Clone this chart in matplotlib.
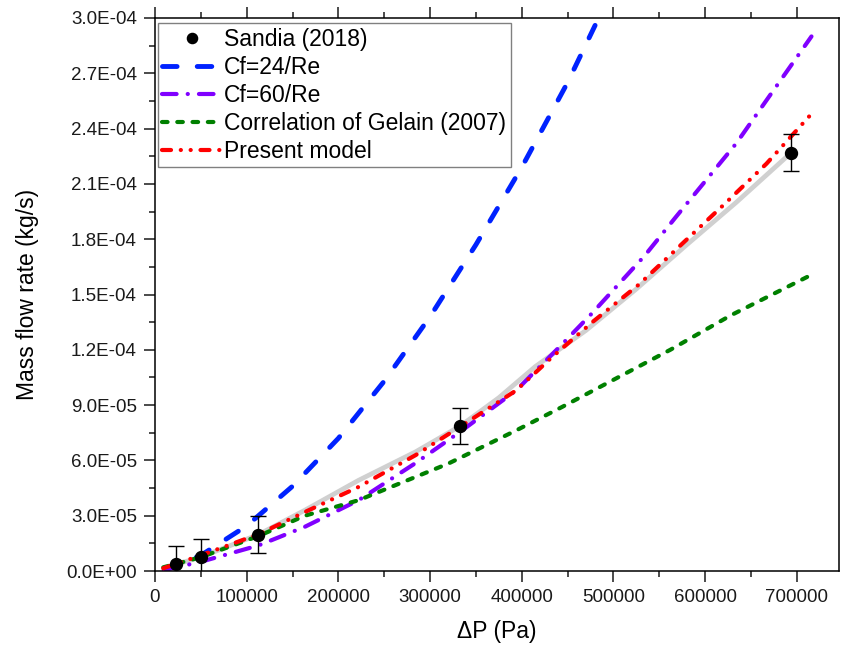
import numpy as np
import matplotlib.pyplot as plt
from matplotlib.ticker import MultipleLocator, FuncFormatter

plt.rcParams['font.family'] = ['Liberation Sans', 'DejaVu Sans']
plt.rcParams['lines.scale_dashes'] = False

# Sandia (2018) experiment
dp_exp = [23000, 50000, 112500, 333000, 694000]
m_exp = [3.6e-6, 7.6e-6, 1.97e-5, 7.87e-5, 2.27e-4]
m_err = [1.0e-5, 1.0e-5, 1.0e-5, 1.0e-5, 1.0e-5]

# grey fit through experiment
dp_fit = [10000, 23000, 50000, 112500, 163500, 222000, 284000, 333000, 375000,
          415000, 470000, 525000, 580000, 634000, 694000]
m_fit = [1.0e-6, 3.6e-6, 7.6e-6, 1.97e-5, 3.3e-5, 4.92e-5, 6.46e-5, 7.87e-5, 9.4e-5,
         1.11e-4, 1.305e-4, 1.53e-4, 1.77e-4, 2.0e-4, 2.27e-4]

# Cf=24/Re
dp_cf24 = [10000, 50000, 100000, 150000, 200000, 250000, 300000, 350000, 400000,
           450000, 480000]
m_cf24 = [0.6e-6, 8.5e-6, 2.45e-5, 4.6e-5, 7.2e-5, 1.03e-4, 1.38e-4, 1.77e-4, 2.19e-4,
          2.65e-4, 2.96e-4]

# Cf=60/Re
dp_cf60 = [10000, 50000, 113000, 163500, 222000, 284000, 335000, 394000, 444000,
           477000, 534000, 568000, 601000, 634000, 665000, 716000]
m_cf60 = [0.5e-6, 5.0e-6, 1.39e-5, 2.4e-5, 3.84e-5, 5.85e-5, 7.63e-5, 9.8e-5, 1.23e-4,
          1.40e-4, 1.71e-4, 1.92e-4, 2.12e-4, 2.32e-4, 2.54e-4, 2.9e-4]

# Correlation of Gelain (2007)
dp_gel = [9000, 50000, 113000, 163500, 222000, 320000, 394000, 444000, 562000,
          628000, 716000]
m_gel = [2.0e-6, 7.5e-6, 1.9e-5, 3.0e-5, 3.84e-5, 5.83e-5, 7.63e-5, 8.9e-5, 1.2e-4,
         1.387e-4, 1.607e-4]

# Present model
dp_mod = [9000, 50000, 113000, 163500, 222000, 284000, 335000, 394000, 433000,
          477000, 528000, 576000, 621000, 667000, 716000]
m_mod = [1.5e-6, 8.5e-6, 2.0e-5, 3.2e-5, 4.56e-5, 6.28e-5, 7.9e-5, 9.8e-5, 1.16e-4,
         1.35e-4, 1.555e-4, 1.78e-4, 1.99e-4, 2.21e-4, 2.48e-4]

fig = plt.figure(figsize=(8.41, 6.45), dpi=100)
ax = fig.add_axes([0.1843, 0.1147, 0.8133, 0.8574])

ax.plot(dp_fit, m_fit, color='#d0d0d0', lw=3.4, solid_capstyle='round',
        solid_joinstyle='round', zorder=1)

ax.plot(dp_cf24, m_cf24, color='#0022ff', lw=3.5, dashes=(10.5, 14.5),
        dash_capstyle='round', label='Cf=24/Re', zorder=2)
ax.plot(dp_cf60, m_cf60, color='#8000ff', lw=3.0, dashes=(10.5, 8, 0.1, 8),
        dash_capstyle='round', label='Cf=60/Re', zorder=2)
ax.plot(dp_gel, m_gel, color='#008000', lw=3.0, dashes=(4, 7),
        dash_capstyle='round', label='Correlation of Gelain (2007)', zorder=2)
ax.plot(dp_mod, m_mod, color='#ff0000', lw=3.0, dashes=(6.5, 7, 0.1, 7, 0.1, 7),
        dash_capstyle='round', label='Present model', zorder=3)

ax.errorbar(dp_exp, m_exp, yerr=m_err, fmt='none', ecolor='black', elinewidth=1.0,
            capsize=6, capthick=1.0, zorder=4)
ax.plot(dp_exp, m_exp, 'o', color='black', ms=8.6, label='Sandia (2018)', zorder=5)

ax.set_xlim(0, 746000)
ax.set_ylim(0, 3.0e-4)
ax.xaxis.set_major_locator(MultipleLocator(100000))
ax.xaxis.set_minor_locator(MultipleLocator(50000))
ax.yaxis.set_major_locator(MultipleLocator(3.0e-5))
ax.yaxis.set_minor_locator(MultipleLocator(1.5e-5))
ax.xaxis.set_major_formatter(FuncFormatter(lambda v, p: '%d' % round(v)))
ax.yaxis.set_major_formatter(FuncFormatter(lambda v, p: '%.1E' % v))

ax.tick_params(which='both', direction='out', top=True, right=False, width=1.1,
               labelsize=13.5, colors='#1a1a1a', pad=5)
ax.tick_params(which='major', length=8)
ax.tick_params(which='minor', length=4)
for s in ax.spines.values():
    s.set_linewidth(1.1)

ax.set_xlabel('ΔP (Pa)', fontsize=16.5, labelpad=10)
ax.set_ylabel('Mass flow rate (kg/s)', fontsize=16.5, labelpad=20)

# legend: Sandia first, grey fit left out
h, l = ax.get_legend_handles_labels()
order = [4, 0, 1, 2, 3]
leg = ax.legend([h[i] for i in order], [l[i] for i in order], loc='upper left',
                bbox_to_anchor=(0.004, 0.991), borderaxespad=0, fontsize=16.5,
                frameon=True, fancybox=False, framealpha=1, edgecolor='#808080',
                handlelength=2.6, handletextpad=0.1, labelspacing=0.22,
                borderpad=0.2, markerscale=0.85)
leg.get_frame().set_linewidth(1.0)

fig.savefig('out.png', dpi=100)
